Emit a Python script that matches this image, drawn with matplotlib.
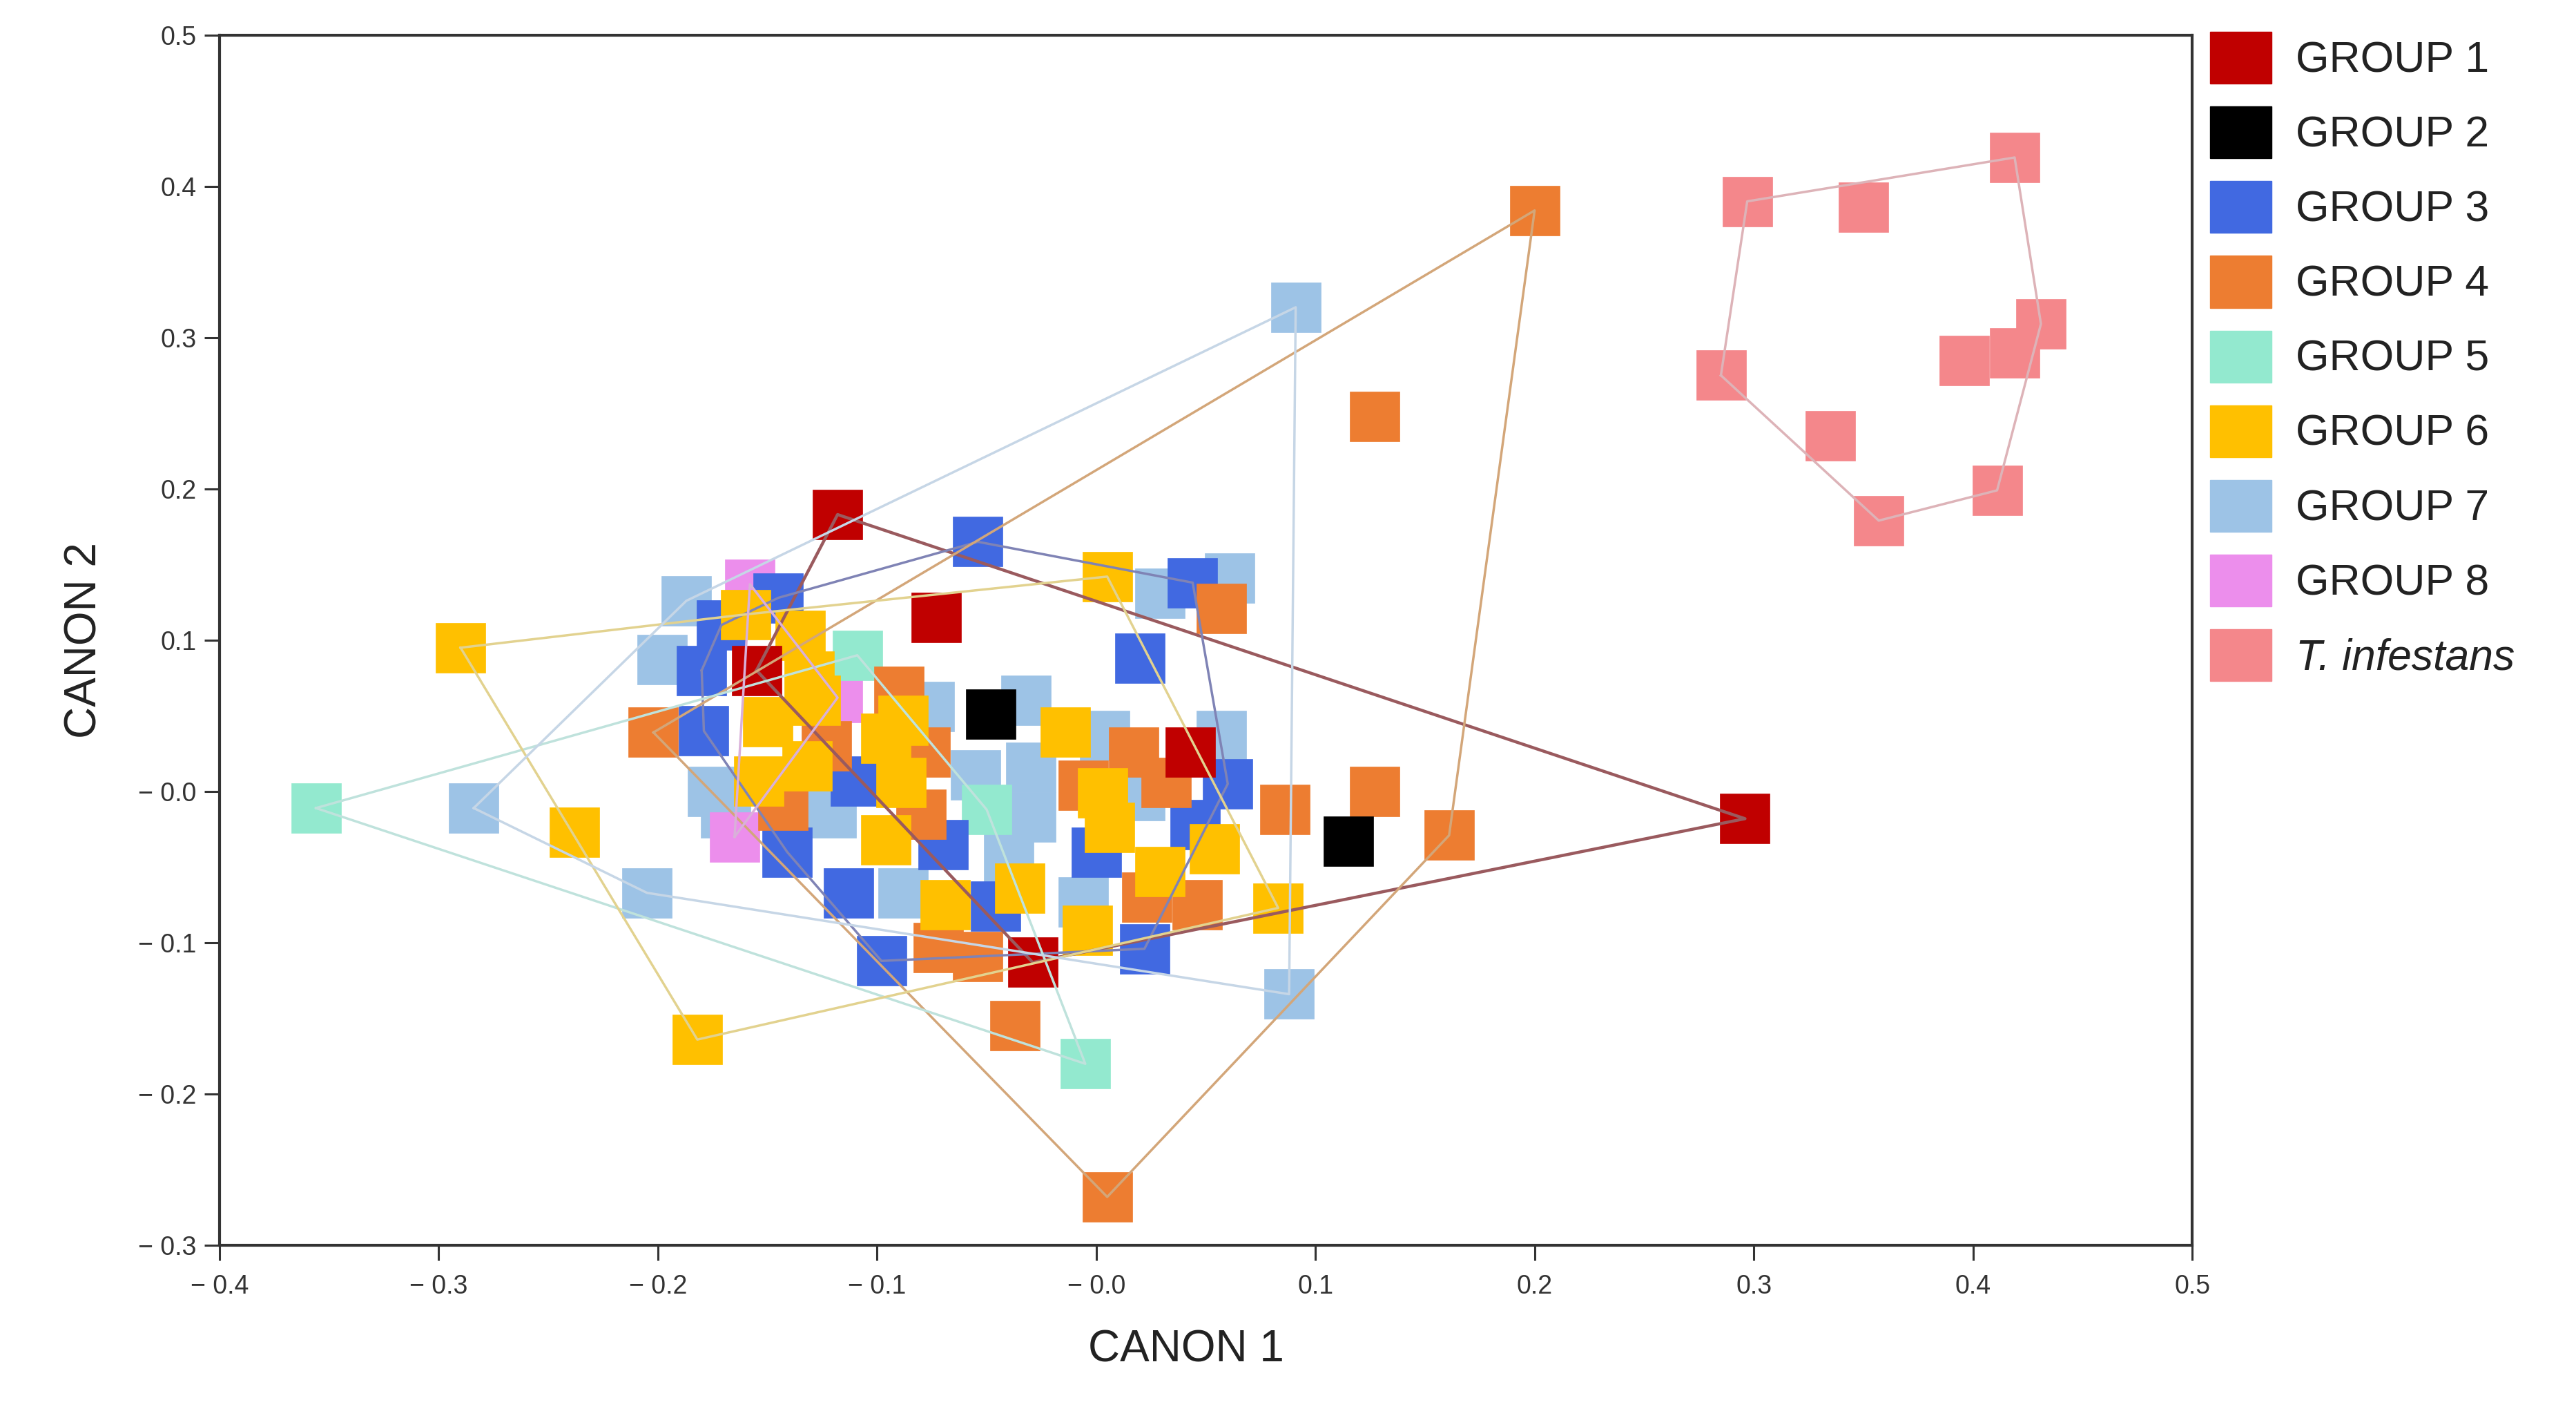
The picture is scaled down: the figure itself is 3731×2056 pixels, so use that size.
import matplotlib
matplotlib.use("Agg")
import matplotlib.pyplot as plt
import matplotlib.patches as mpatches
import numpy as np

plt.rcParams['font.family'] = ['Liberation Sans', 'DejaVu Sans']

# 数据
g1_x = [-0.118, -0.073, -0.155, 0.043, -0.029, 0.296]
g1_y = [0.183, 0.115, 0.080, 0.026, -0.113, -0.018]

g2_x = [-0.048, 0.115]
g2_y = [0.051, -0.033]

g3_x = [-0.054, 0.044, -0.145, -0.171, -0.180, -0.179, 0.020, -0.110, -0.141,
        -0.070, -0.046, -0.113, -0.098, 0.060, 0.045, 0.000, 0.022]
g3_y = [0.165, 0.138, 0.128, 0.110, 0.080, 0.040, 0.088, 0.007, -0.040,
        -0.035, -0.076, -0.067, -0.112, 0.005, -0.022, -0.040, -0.104]

g4_x = [0.200, 0.127, 0.057, -0.202, -0.090, -0.123, -0.078, -0.143, 0.017,
        0.032, -0.006, 0.086, 0.127, 0.161, 0.023, 0.046, -0.072, -0.054,
        -0.037, 0.005, -0.080]
g4_y = [0.384, 0.248, 0.121, 0.039, 0.066, 0.030, 0.026, -0.009, 0.026,
        0.006, 0.004, -0.012, 0.000, -0.029, -0.070, -0.075, -0.103, -0.109,
        -0.155, -0.268, -0.015]

g5_x = [-0.356, -0.109, -0.050, -0.005]
g5_y = [-0.011, 0.090, -0.012, -0.180]

g6_x = [-0.290, -0.238, -0.182, 0.005, 0.083, -0.160, -0.135, -0.131, -0.128,
        -0.150, -0.154, -0.132, -0.088, -0.096, -0.089, -0.096, -0.069, -0.035,
        -0.004, -0.014, 0.003, 0.006, 0.029, 0.054]
g6_y = [0.095, -0.027, -0.164, 0.142, -0.077, 0.117, 0.103, 0.076, 0.060,
        0.046, 0.007, 0.017, 0.047, 0.035, 0.006, -0.032, -0.075, -0.064,
        -0.092, 0.039, -0.001, -0.024, -0.053, -0.038]

g7_x = [0.091, -0.187, -0.198, -0.284, -0.205, 0.088, 0.029, 0.061, -0.076,
        -0.055, -0.032, 0.004, 0.057, -0.175, -0.169, -0.121, -0.088, -0.030,
        -0.030, -0.006, -0.040, 0.020]
g7_y = [0.320, 0.126, 0.087, -0.011, -0.067, -0.134, 0.131, 0.141, 0.056,
        0.011, 0.060, 0.037, 0.037, 0.000, -0.014, -0.014, -0.067, -0.017,
        0.016, -0.073, -0.045, -0.003]

g8_x = [-0.158, -0.118, -0.165]
g8_y = [0.137, 0.062, -0.030]

ti_x = [0.419, 0.297, 0.350, 0.431, 0.396, 0.419, 0.285, 0.335, 0.411, 0.357]
ti_y = [0.419, 0.390, 0.386, 0.309, 0.285, 0.290, 0.275, 0.235, 0.199, 0.179]

labels = ['GROUP 1', 'GROUP 2', 'GROUP 3', 'GROUP 4', 'GROUP 5',
          'GROUP 6', 'GROUP 7', 'GROUP 8', 'T. infestans']

xticks = [-0.4, -0.3, -0.2, -0.1, 0.0, 0.1, 0.2, 0.3, 0.4, 0.5]
xticklabels = ['\u2212 0.4', '\u2212 0.3', '\u2212 0.2', '\u2212 0.1', '\u2212 0.0',
               '0.1', '0.2', '0.3', '0.4', '0.5']
yticks = [-0.3, -0.2, -0.1, 0.0, 0.1, 0.2, 0.3, 0.4, 0.5]
yticklabels = ['\u2212 0.3', '\u2212 0.2', '\u2212 0.1', '\u2212 0.0',
               '0.1', '0.2', '0.3', '0.4', '0.5']

# 颜色
colors = ['#C00000', '#000000', '#4169E1', '#ED7D31', '#93E9CF',
          '#FFC000', '#9DC3E6', '#EC8EEC', '#F4878B']
hull_colors = ['#9A5A5E', '#555555', '#7F83B5', '#D3A679', '#BFE2DC',
               '#E2D28F', '#C6D6E6', '#D9B0D9', '#DDB3B8']

groups = [(g1_x, g1_y), (g2_x, g2_y), (g3_x, g3_y), (g4_x, g4_y), (g5_x, g5_y),
          (g6_x, g6_y), (g7_x, g7_y), (g8_x, g8_y), (ti_x, ti_y)]


def convex_hull(xs, ys):
    pts = sorted(set(zip(xs, ys)))
    if len(pts) < 3:
        return pts

    def cross(o, a, b):
        return (a[0] - o[0]) * (b[1] - o[1]) - (a[1] - o[1]) * (b[0] - o[0])

    lower = []
    for p in pts:
        while len(lower) >= 2 and cross(lower[-2], lower[-1], p) <= 0:
            lower.pop()
        lower.append(p)
    upper = []
    for p in reversed(pts):
        while len(upper) >= 2 and cross(upper[-2], upper[-1], p) <= 0:
            upper.pop()
        upper.append(p)
    return lower[:-1] + upper[:-1]


fig = plt.figure(figsize=(37.31, 20.56), dpi=100)
ax = fig.add_axes([0.0852, 0.123, 0.7658, 0.8524])

# 绘制顺序（浅蓝在底层）
draw_order = [6, 7, 4, 2, 3, 5, 0, 1, 8]
for z, i in enumerate(draw_order):
    gx, gy = groups[i]
    ax.plot(gx, gy, linestyle='none', marker='s', markersize=52,
            markerfacecolor=colors[i], markeredgecolor=colors[i],
            markeredgewidth=0.5, zorder=2 + z * 0.01)

# 外包络线画在点之上
for i, (gx, gy) in enumerate(groups):
    hull = convex_hull(gx, gy)
    if len(hull) < 3:
        continue
    hx = [p[0] for p in hull] + [hull[0][0]]
    hy = [p[1] for p in hull] + [hull[0][1]]
    lw = 3.2 if i == 0 else 2.5
    ax.plot(hx, hy, color=hull_colors[i], linewidth=lw, zorder=3)

ax.set_xlim(-0.4, 0.5)
ax.set_ylim(-0.3, 0.5)
ax.set_xticks(xticks)
ax.set_xticklabels(xticklabels)
ax.set_yticks(yticks)
ax.set_yticklabels(yticklabels)
ax.tick_params(axis='both', direction='out', length=16, width=2.2,
               color='#333333', labelcolor='#333333', labelsize=27)
ax.tick_params(axis='x', pad=14)
ax.tick_params(axis='y', pad=8)
for sp in ax.spines.values():
    sp.set_linewidth(3)
    sp.set_color('#333333')

ax.set_xlabel('CANON 1', fontsize=46, color='#222222')
ax.xaxis.set_label_coords(0.49, -0.069)
ax.set_ylabel('CANON 2', fontsize=46, color='#222222')
ax.yaxis.set_label_coords(-0.058, 0.5)

# 图例
handles = [mpatches.Patch(facecolor=c, edgecolor=c) for c in colors]
leg = fig.legend(handles, labels, loc='upper left',
                 bbox_to_anchor=(3201 / 3731, 1 - 46 / 2056),
                 frameon=False, fontsize=45, handlelength=1.43,
                 handleheight=1.47, labelspacing=0.53, handletextpad=0.55,
                 borderpad=0, borderaxespad=0)
for t in leg.get_texts():
    t.set_color('#222222')
leg.get_texts()[-1].set_style('italic')

fig.savefig('out.png', dpi=100, facecolor='white')
